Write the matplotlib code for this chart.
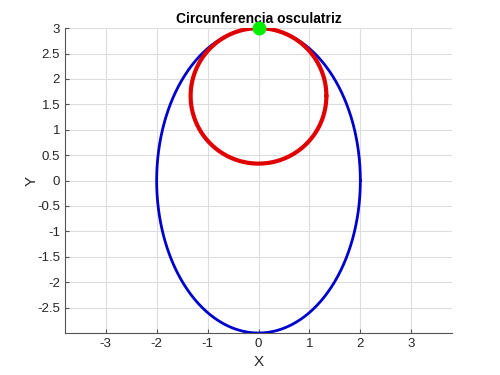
import numpy as np
import matplotlib
matplotlib.use('Agg')
import matplotlib.pyplot as plt

# === PARAMETERS ===
a = 2.0   # semieje x
b = 3.0   # semieje y
point = (0.0, 3.0)
radius = a**2 / b
center = (0.0, b - radius)

x_ticks = [-3, -2, -1, 0, 1, 2, 3]
y_ticks = [-2.5, -2, -1.5, -1, -0.5, 0, 0.5, 1, 1.5, 2, 2.5, 3]

t = np.linspace(0, 2 * np.pi, 400)

plt.rcParams['font.family'] = ['Liberation Sans', 'DejaVu Sans']

fig = plt.figure(figsize=(5, 3.75), dpi=100)
ax = fig.add_axes([0.13, 0.112, 0.774, 0.813])

ax.plot(a * np.cos(t), b * np.sin(t), color='#0000cc', lw=2,
        solid_capstyle='round')
ax.plot(center[0] + radius * np.cos(t), center[1] + radius * np.sin(t),
        color='#e00000', lw=3, solid_capstyle='round')
ax.plot(point[0], point[1], 'o', color='#00ee00', ms=9, zorder=5,
        clip_on=False)

ax.set_xlim(-3.8, 3.8)
ax.set_ylim(-3, 3)
ax.set_xticks(x_ticks)
ax.set_yticks(y_ticks)
ax.set_xticklabels([f'{v:g}' for v in x_ticks])
ax.set_yticklabels([f'{v:g}' for v in y_ticks])

ax.grid(True, color='#dddddd', lw=0.8)
ax.set_axisbelow(True)
for s in ['top', 'right']:
    ax.spines[s].set_visible(False)
for s in ['left', 'bottom']:
    ax.spines[s].set_color('#555555')
ax.tick_params(direction='in', length=3, colors='#262626', labelsize=9.5,
               color='#555555')

ax.set_xlabel('X', fontsize=11, color='#262626', labelpad=4)
ax.set_ylabel('Y', fontsize=11, color='#262626', labelpad=-1)
ax.set_title('Circunferencia osculatriz', fontsize=10, fontweight='bold', pad=4)

fig.savefig('out.png', dpi=100)
